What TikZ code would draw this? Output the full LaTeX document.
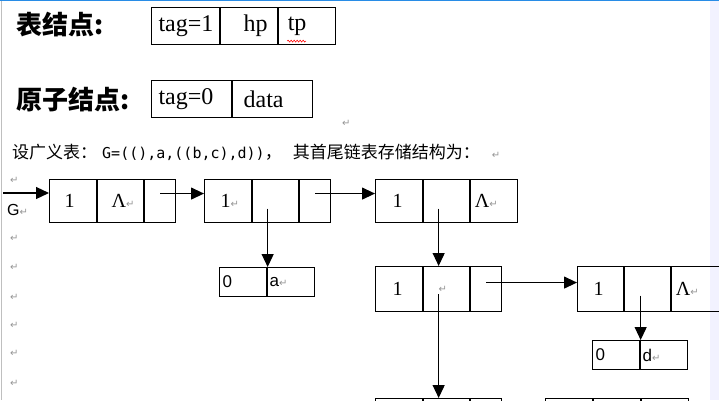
\documentclass[tikz,border=0pt]{standalone}
\usepackage{fontspec}
\setmainfont{Liberation Serif}
\newfontfamily\cjkfont{Noto Sans CJK SC}
\newfontfamily\arialfont{Liberation Sans}
\newfontfamily\monofont{DejaVu Sans Mono}
\newfontfamily\symfont{DejaVu Sans}
\usepackage{xcolor}
\usetikzlibrary{positioning, arrows.meta, decorations.pathmorphing}
\definecolor{Frame}{RGB}{40,140,230}
\definecolor{Mark}{RGB}{150,150,150}
\newcommand{\retmark}{{\symfont\fontsize{10}{10}\selectfont\textcolor{Mark}{↵}}}

\begin{document}
\begin{tikzpicture}[
        x=1pt, y=-1pt,
        every node/.style={inner sep=0pt},
        cell/.style={draw, line width=1.1pt, text width=#1, align=left, minimum height=43pt, anchor=north west, font=\fontsize{20}{20}\selectfont},
        atom/.style={cell=#1, minimum height=29pt, font=\arialfont\fontsize{17}{17}\selectfont},
        head/.style={cell=#1, minimum height=37pt, font=\fontsize{24}{24}\selectfont},
        title/.style={anchor=west, font=\cjkfont\bfseries\fontsize{26}{26}\selectfont},
        retsym/.style={anchor=west},
        link/.style={-{Triangle[length=13pt,width=12pt]}, line width=1.2pt},
        spell/.style={red, line width=0.6pt, decorate, decoration={snake, amplitude=0.9pt, segment length=3pt}}
    ]
        \useasboundingbox (0,0) rectangle (719,400);
        \fill[white] (0,0) rectangle (719,400);
        \fill[blue!5] (710,0) rectangle (719,400);
        \draw[gray!50, line width=1pt] (1,0) -- (1,400);
        \draw[Frame, line width=2pt] (0,0) -- (719,0);

        % Table node
        \node[title] (t1) at (16,25) {表结点:};
        \node[head=68pt] (h1a) at (151,7) {\hspace*{7pt}tag=1};
        \node[head=57pt, right=0pt of h1a] (h1b) {\hspace*{23pt}hp};
        \node[head=57pt, right=0pt of h1b] (h1c) {\hspace*{9pt}tp};
        \draw[spell] ([xshift=9pt,yshift=4pt]h1c.south west) -- ++(19,0);

        % Atom node
        \node[title] (t2) at (16,100) {原子结点:};
        \node[head=80pt] (h2a) at (151,80) {\hspace*{7pt}tag=0};
        \node[head=80pt, right=0pt of h2a] (h2b) {\hspace*{11pt}data};
        \node[retsym] (m0) at (342,123) {\retmark};

        % Text line
        \node[anchor=west, font=\cjkfont\fontsize{17}{17}\selectfont] (txt) at (12,152) {设广义表：\hspace{5pt}{\monofont\fontsize{15}{15}\selectfont G=((),a,((b,c),d))}，\hspace{11pt}其首尾链表存储结构为：\hspace{12pt}\retmark};

        % Left marks
        \foreach \y [count=\i] in {180,238,267,297,325,353,383}
            \node[retsym] (m\i) at (10,\y) {\retmark};
        \node[anchor=west, font=\arialfont\fontsize{16}{16}\selectfont] (g) at (7,210) {G\retmark};

        % List G
        \node[cell=47pt] (b1a) at (49,179) {\hspace*{15pt}1};
        \node[cell=46pt, right=0pt of b1a] (b1b) {\hspace*{14pt}Λ\retmark};
        \node[cell=31pt, right=0pt of b1b] (b1c) {};

        \node[cell=47pt] (b2a) at (204,179) {\hspace*{16pt}1\retmark};
        \node[cell=46pt, right=0pt of b2a] (b2b) {};
        \node[cell=31pt, right=0pt of b2b] (b2c) {};

        \node[cell=47pt] (b3a) at (375,179) {\hspace*{17pt}1};
        \node[cell=46pt, right=0pt of b3a] (b3b) {};
        \node[cell=47pt, right=0pt of b3b] (b3c) {\hspace*{4pt}Λ\retmark};

        % Sublist ((b,c),d)
        \node[cell=47pt, minimum height=45pt] (b4a) at (375,266) {\hspace*{17pt}1};
        \node[cell=46pt, minimum height=45pt, right=0pt of b4a] (b4b) {\hspace*{15pt}\retmark};
        \node[cell=31pt, minimum height=45pt, right=0pt of b4b] (b4c) {};

        \node[cell=46pt, minimum height=45pt] (b5a) at (577,266) {\hspace*{16pt}1};
        \node[cell=46pt, minimum height=45pt, right=0pt of b5a] (b5b) {};
        \node[cell=48pt, minimum height=45pt, right=0pt of b5b] (b5c) {\hspace*{4pt}Λ\retmark};

        % Atoms
        \node[atom=47pt] (a1a) at (219,267) {\hspace*{3pt}0};
        \node[atom=47pt, right=0pt of a1a] (a1b) {\hspace*{2pt}a\retmark};

        \node[atom=47pt] (a2a) at (592,340) {\hspace*{3pt}0};
        \node[atom=47pt, right=0pt of a2a] (a2b) {\hspace*{2pt}d\retmark};

        % Bottom row
        \node[cell=47pt] (b6a) at (375,398) {};
        \node[cell=46pt, right=0pt of b6a] (b6b) {};
        \node[cell=31pt, right=0pt of b6b] (b6c) {};

        \node[cell=47pt] (b7a) at (545,398) {};
        \node[cell=47pt, right=0pt of b7a] (b7b) {};
        \node[cell=47pt, right=0pt of b7b] (b7c) {};

        % Arrows
        \coordinate (gin) at (3,193);
        \draw[link] (gin) -- (gin -| b1a.west);
        \coordinate (r1) at ([yshift=7.5pt]b1c.center);
        \draw[link] (r1) -- (r1 -| b2a.west);
        \coordinate (r2) at ([yshift=7.5pt]b2c.center);
        \draw[link] (r2) -- (r2 -| b3a.west);
        \coordinate (r4) at ([yshift=6.5pt]b4c.center);
        \draw[link] (r4) -- (r4 -| b5a.west);

        \coordinate (s2) at ([shift={(-8pt,-7.5pt)}]b2b.center);
        \draw[link] (s2) -- (s2 |- a1a.north);
        \coordinate (s3) at ([shift={(-8pt,-7.5pt)}]b3b.center);
        \draw[link] (s3) -- (s3 |- b4b.north);
        \coordinate (s4) at ([shift={(-8pt,-5pt)}]b4b.center);
        \draw[link] (s4) -- (s4 |- b6b.north);
        \coordinate (s5) at ([shift={(-7pt,-6.5pt)}]b5b.center);
        \draw[link] (s5) -- (s5 |- a2a.north);
    \end{tikzpicture}
\end{document}
